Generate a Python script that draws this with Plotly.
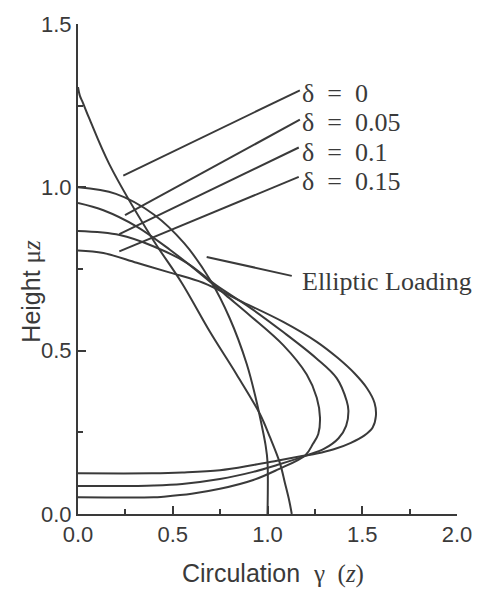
import plotly.graph_objects as go

# ---------------- data ----------------
elliptic_x = [0, 0.2, 0.4, 0.56, 0.7, 0.8, 0.89, 0.94, 0.97, 0.99, 1.0, 1.0]
elliptic_y = [1.0, 0.98, 0.917, 0.829, 0.714, 0.6, 0.46, 0.35, 0.27, 0.21, 0.16, 0.0]

d0_x = [0, 0.01, 0.025, 0.06, 0.165, 0.39, 0.547, 0.697, 0.837, 0.96, 1.013, 1.066, 1.092, 1.115, 1.128]
d0_y = [1.307, 1.28, 1.26, 1.21, 1.071, 0.845, 0.708, 0.557, 0.427, 0.306, 0.235, 0.155, 0.095, 0.04, 0.0]

d05_x = [0, 0.134, 0.31, 0.485, 0.66, 0.78, 0.907, 1.083, 1.207, 1.26, 1.277, 1.268, 1.24,
         1.2, 1.05, 0.925, 0.749, 0.6, 0.45, 0.4, 0]
d05_y = [0.952, 0.93, 0.88, 0.809, 0.729, 0.67, 0.608, 0.517, 0.427, 0.356, 0.295, 0.245, 0.215,
         0.18, 0.135, 0.104, 0.077, 0.062, 0.053, 0.051, 0.051]

d10_x = [0, 0.22, 0.40, 0.574, 0.73, 0.9, 1.083, 1.257, 1.365, 1.418, 1.427, 1.415, 1.375,
         1.3, 1.2, 1.05, 0.925, 0.749, 0.55, 0.4, 0.3, 0]
d10_y = [0.866, 0.854, 0.819, 0.769, 0.70, 0.635, 0.557, 0.477, 0.416, 0.346, 0.316, 0.27, 0.232,
         0.2, 0.178, 0.15, 0.129, 0.107, 0.092, 0.087, 0.086, 0.086]

d15_x = [0, 0.134, 0.31, 0.486, 0.66, 0.85, 1.083, 1.26, 1.37, 1.46, 1.525, 1.565, 1.572, 1.555,
         1.51, 1.44, 1.35, 1.26, 1.19, 1.05, 0.925, 0.749, 0.55, 0.39, 0]
d15_y = [0.807, 0.799, 0.769, 0.739, 0.708, 0.654, 0.588, 0.527, 0.478, 0.43, 0.385, 0.34, 0.3, 0.265,
         0.24, 0.218, 0.198, 0.185, 0.178, 0.163, 0.15, 0.134, 0.127, 0.1245, 0.1245]

# labels and leader lines
label_texts = ["\u03b4\u00a0\u00a0=\u00a0\u00a00", "\u03b4\u00a0\u00a0=\u00a0\u00a00.05",
               "\u03b4\u00a0\u00a0=\u00a0\u00a00.1", "\u03b4\u00a0\u00a0=\u00a0\u00a00.15",
               "Elliptic Loading"]
label_x = [1.171, 1.171, 1.171, 1.171, 1.171]
label_y = [1.288, 1.198, 1.107, 1.017, 0.712]
leader_x0 = [0.239, 0.248, 0.218, 0.218, 0.679]
leader_y0 = [1.036, 0.915, 0.857, 0.804, 0.787]
leader_x1 = [1.171, 1.171, 1.165, 1.165, 1.128]
leader_y1 = [1.297, 1.207, 1.122, 1.032, 0.729]

# ---------------- figure ----------------
INK = "#3a3a3a"
fig = go.Figure()

for xs, ys in [(elliptic_x, elliptic_y), (d0_x, d0_y), (d05_x, d05_y), (d10_x, d10_y), (d15_x, d15_y)]:
    fig.add_trace(go.Scatter(x=xs, y=ys, mode="lines",
                             line=dict(color=INK, width=2, shape="spline", smoothing=1.0),
                             showlegend=False, hoverinfo="skip", cliponaxis=False))

for x0, y0, x1, y1 in zip(leader_x0, leader_y0, leader_x1, leader_y1):
    fig.add_trace(go.Scatter(x=[x0, x1], y=[y0, y1], mode="lines",
                             line=dict(color=INK, width=2),
                             showlegend=False, hoverinfo="skip", cliponaxis=False))

for t, x, y in zip(label_texts, label_x, label_y):
    fig.add_annotation(x=x, y=y, xref="x", yref="y", text=t, showarrow=False,
                       xanchor="left", yanchor="middle",
                       font=dict(family="Liberation Serif", size=26, color=INK))

# axis titles as annotations
fig.add_annotation(xref="paper", yref="paper", x=0.515, y=-0.122, showarrow=False,
                   xanchor="center", yanchor="middle",
                   text="Circulation\u00a0\u00a0<span style='font-family:Liberation Serif'>\u03b3\u00a0\u00a0(<i>z</i>)</span>",
                   font=dict(family="Liberation Sans", size=25, color=INK))
fig.add_annotation(xref="paper", yref="paper", x=-0.125, y=0.455, showarrow=False,
                   xanchor="center", yanchor="middle", textangle=-90,
                   text="Height <span style='font-family:Liberation Serif'>\u03bc<i>z</i></span>",
                   font=dict(family="Liberation Sans", size=25, color=INK))

axis_common = dict(showgrid=False, zeroline=False, showline=True, linewidth=2, linecolor=INK,
                   tickmode="linear", tick0=0, dtick=0.5, tickformat=".1f",
                   ticks="inside", ticklen=8, tickwidth=2, tickcolor=INK,
                   tickfont=dict(family="Liberation Sans", size=22, color=INK),
                   minor=dict(ticks="inside", ticklen=5, tickwidth=2, tickcolor=INK,
                              dtick=0.25, tick0=0, showgrid=False))

fig.update_xaxes(range=[0, 2], **axis_common)
fig.update_yaxes(range=[0, 1.5], **axis_common)

fig.update_layout(width=485, height=589, margin=dict(l=78, r=28, t=16, b=75),
                  paper_bgcolor="white", plot_bgcolor="white")

fig.write_html("out.html")
